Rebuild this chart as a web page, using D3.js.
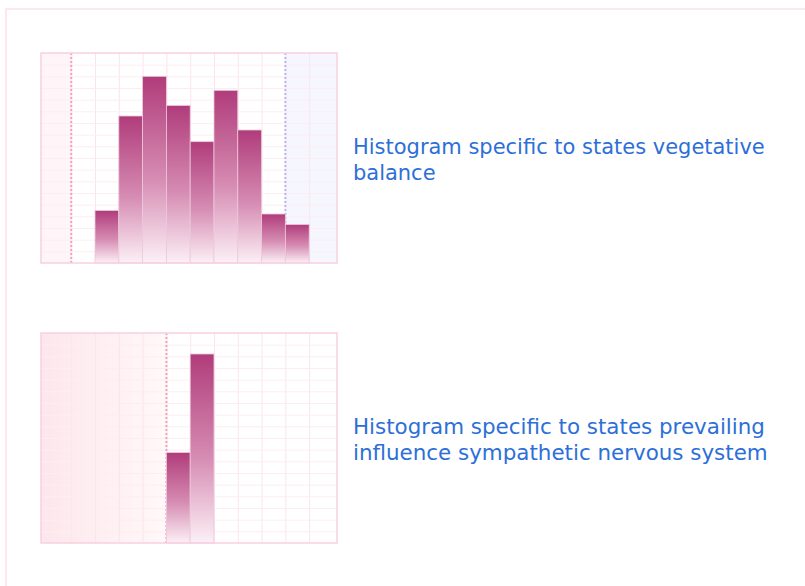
<!DOCTYPE html>
<html>
<head>
<meta charset="utf-8">
<script src="https://cdn.jsdelivr.net/npm/d3@7"></script>
<style>
  html, body { margin: 0; padding: 0; background: #ffffff; }
  svg { display: block; }
</style>
</head>
<body>
<svg id="chart" width="805" height="586"></svg>
<script>
// ---- data ----
const titles1 = ["Histogram specific to states vegetative", "balance"];
const titles2 = ["Histogram specific to states prevailing", "influence sympathetic nervous system"];
const bins1 = [0, 1, 2, 3, 4, 5, 6, 7, 8];
const values1 = [4.5, 12.6, 16.0, 13.5, 10.4, 14.8, 11.4, 4.2, 3.3];
const bins2 = [3, 4];
const values2 = [7.75, 16.2];
const lowMark1 = -1, highMark1 = 8;   // red / blue dashed markers chart 1
const lowMark2 = 3;                   // red dashed marker chart 2
const xDomain = [-2.27, 10.17];
const yDomain = [0, 18];
const gridX = d3.range(-1, 10);
const gridY = d3.range(1, 18);

const svg = d3.select("#chart");
const defs = svg.append("defs");

const barGrad = defs.append("linearGradient").attr("id", "barGrad")
  .attr("x1", 0).attr("y1", 0).attr("x2", 0).attr("y2", 1);
barGrad.append("stop").attr("offset", "0%").attr("stop-color", "#b03c7b");
barGrad.append("stop").attr("offset", "55%").attr("stop-color", "#d68cb3");
barGrad.append("stop").attr("offset", "100%").attr("stop-color", "#fcf0f6");

const pinkGrad = defs.append("linearGradient").attr("id", "pinkGrad")
  .attr("x1", 0).attr("y1", 0).attr("x2", 1).attr("y2", 0);
pinkGrad.append("stop").attr("offset", "0%").attr("stop-color", "#fde6ec");
pinkGrad.append("stop").attr("offset", "100%").attr("stop-color", "#fff8f9");

// page frame
svg.append("rect").attr("x", 6).attr("y", 9).attr("width", 900).attr("height", 700)
  .attr("fill", "none").attr("stroke", "#fde0ee").attr("stroke-width", 1.5);

const FONT = "DejaVu Sans, Verdana, sans-serif";

function panel(top, bins, values, marks, leftFill, rightFill, title, textTop) {
  const left = 41, right = 337, bottom = top + 210;
  const x = d3.scaleLinear().domain(xDomain).range([left, right]);
  const y = d3.scaleLinear().domain(yDomain).range([bottom, top]);
  const g = svg.append("g");

  // shaded regions
  g.append("rect").attr("x", left).attr("y", top)
    .attr("width", x(marks.low) - left).attr("height", bottom - top).attr("fill", leftFill);
  if (marks.high !== undefined) {
    g.append("rect").attr("x", x(marks.high)).attr("y", top)
      .attr("width", right - x(marks.high)).attr("height", bottom - top).attr("fill", rightFill);
  }

  // grid via axes
  const gx = g.append("g").attr("transform", `translate(0,${bottom})`)
    .call(d3.axisBottom(x).tickValues(gridX).tickSize(-(bottom - top)).tickFormat(""));
  gx.select(".domain").remove();
  gx.selectAll("line").attr("stroke", "#fbe4ee").attr("stroke-width", 1);
  const gy = g.append("g").attr("transform", `translate(${left},0)`)
    .call(d3.axisLeft(y).tickValues(gridY).tickSize(-(right - left)).tickFormat(""));
  gy.select(".domain").remove();
  gy.selectAll("line").attr("stroke", "#fdedf3").attr("stroke-width", 1);

  // markers
  g.append("line").attr("x1", x(marks.low)).attr("x2", x(marks.low))
    .attr("y1", top).attr("y2", bottom)
    .attr("stroke", "#f4a3b8").attr("stroke-width", 2).attr("stroke-dasharray", "2,2");
  if (marks.high !== undefined) {
    g.append("line").attr("x1", x(marks.high)).attr("x2", x(marks.high))
      .attr("y1", top).attr("y2", bottom)
      .attr("stroke", "#b8b8f4").attr("stroke-width", 2).attr("stroke-dasharray", "2,2");
  }

  // bars
  g.selectAll("rect.bar").data(bins.map((b, i) => ({ b, v: values[i] }))).join("rect")
    .attr("class", "bar")
    .attr("x", d => x(d.b))
    .attr("width", d => x(d.b + 1) - x(d.b))
    .attr("y", d => y(d.v))
    .attr("height", d => bottom - y(d.v))
    .attr("fill", "url(#barGrad)")
    .attr("stroke", "#ecc8da").attr("stroke-width", 0.8);

  // border
  g.append("rect").attr("x", left).attr("y", top)
    .attr("width", right - left).attr("height", bottom - top)
    .attr("fill", "none").attr("stroke", "#f8cfe2").attr("stroke-width", 1.5);

  // title
  const t = svg.append("text").attr("x", 353).attr("y", textTop)
    .attr("font-family", FONT)
    .attr("font-size", 20).attr("fill", "#2d6fd8");
  title.forEach((line, i) => {
    t.append("tspan").attr("x", 353).attr("dy", i === 0 ? 0 : 26.5).text(line);
  });
  // fit first line to the reference width
  const w = t.select("tspan").node().getComputedTextLength();
  t.attr("font-size", 20 * 412 / w);
}

panel(53, bins1, values1, { low: lowMark1, high: highMark1 }, "#fff4f7", "#f6f6ff", titles1, 153.5);
panel(333, bins2, values2, { low: lowMark2 }, "url(#pinkGrad)", null, titles2, 433.5);
</script>
</body>
</html>
